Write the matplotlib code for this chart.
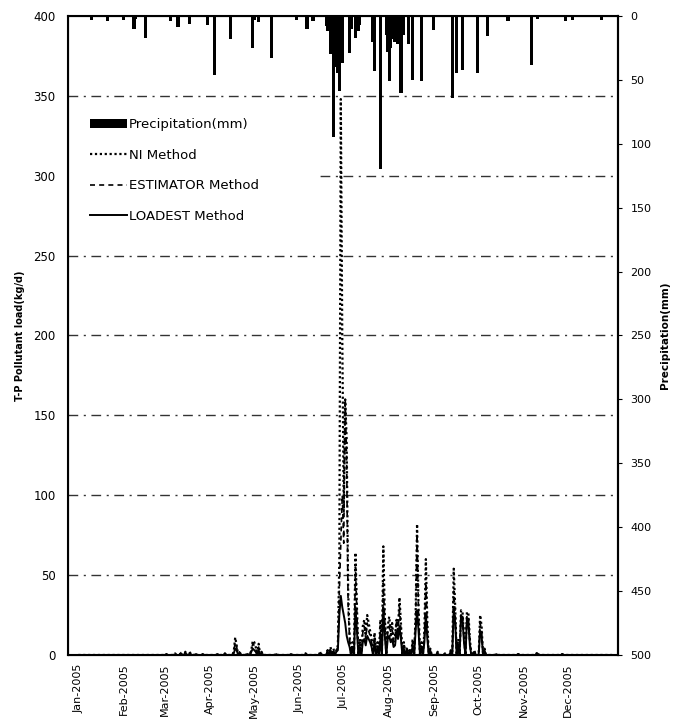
import numpy as np
import pandas as pd
import matplotlib
matplotlib.use("Agg")
import matplotlib.pyplot as plt
from matplotlib.patches import Rectangle

# ---------------- data (day index: 0 = 1 Jan 2005) ----------------
precip_days = [9, 20, 31, 38, 39, 46, 63, 68, 76, 88, 93, 104, 119, 120, 123, 132,
               149, 156, 160, 169, 170, 172, 173, 174, 175, 176, 177, 178, 179, 180,
               185, 186, 189, 190, 191, 192, 201, 202, 206, 210, 211, 212, 213, 215,
               216, 218, 220, 222, 225, 228, 234, 242, 255, 258, 262, 272, 279, 293,
               309, 313, 332, 337, 357]
precip_mm = [3, 4, 3, 10, 2, 17, 4, 9, 6, 7, 46, 18, 25, 3, 5, 33,
             3, 10, 4, 8, 12, 30, 20, 95, 40, 25, 45, 59, 30, 37,
             29, 10, 17, 8, 12, 7, 20, 43, 120, 15, 28, 51, 25, 18,
             20, 22, 60, 15, 22, 50, 51, 11, 64, 45, 42, 45, 16, 4,
             38, 2, 4, 3, 3]

load_days = [60, 66, 70, 73, 76, 80, 85, 95, 100, 106, 107, 108, 110, 115, 118, 119, 120,
             121, 123, 125, 135, 145, 155, 165, 170, 172, 174, 176, 177, 178, 179, 180,
             181, 182, 183, 184, 185, 187, 189, 190, 192, 194, 195, 196, 197, 198, 199,
             200, 202, 204, 206, 208, 209, 211, 212, 213, 214, 215, 216, 217, 218, 219,
             220, 222, 224, 226, 228, 230, 231, 232, 234, 236, 237, 238, 240, 245, 250,
             254, 256, 257, 259, 261, 262, 263, 265, 266, 267, 270, 274, 275, 277, 285,
             300, 313, 330]
ni_load = [0.5, 1, 1.5, 2, 2, 1, 0.5, 0.5, 1, 2, 11, 6, 2, 1, 3, 9, 8,
           5, 7, 2, 1, 0.5, 1, 2, 3, 5, 4, 3, 6, 60, 348, 200,
           90, 160, 135, 40, 12, 8, 64, 30, 10, 18, 22, 12, 25, 20, 15,
           10, 14, 8, 22, 68, 25, 18, 24, 15, 20, 10, 12, 22, 16, 36,
           20, 8, 5, 3, 10, 25, 82, 30, 8, 15, 60, 20, 4, 2, 1,
           3, 54, 30, 10, 28, 27, 12, 27, 26, 10, 3, 25, 18, 4, 0.5,
           0.5, 2, 0.5]
est_load = [0.5, 1, 1.5, 1.5, 1.5, 1, 0.5, 0.5, 1, 2, 8, 5, 2, 1, 3, 7, 6,
            4, 5, 2, 1, 0.5, 1, 2, 3, 4, 3, 3, 5, 40, 70, 100,
            70, 160, 120, 30, 10, 6, 55, 25, 8, 14, 18, 10, 20, 15, 12,
            8, 12, 6, 18, 45, 20, 14, 18, 12, 16, 8, 10, 22, 14, 30,
            15, 6, 4, 3, 8, 20, 75, 25, 6, 12, 45, 15, 3, 2, 1,
            3, 40, 25, 8, 26, 25, 10, 25, 24, 8, 3, 20, 15, 3, 0.5,
            0.5, 1.5, 0.5]
loadest_load = [0.5, 0.5, 1, 1, 1, 0.5, 0.5, 0.5, 0.5, 1, 4, 3, 1, 0.5, 2, 4, 3,
                2, 3, 1, 0.5, 0.5, 0.5, 1, 2, 3, 2, 2, 3, 25, 37, 30,
                25, 20, 12, 8, 5, 4, 30, 15, 5, 8, 10, 6, 12, 10, 8,
                5, 8, 4, 10, 30, 12, 10, 12, 8, 10, 5, 6, 15, 10, 18,
                10, 4, 3, 2, 6, 15, 28, 15, 4, 8, 26, 10, 2, 1, 0.5,
                2, 29, 20, 6, 25, 22, 8, 22, 20, 6, 2, 15, 12, 2, 0.5,
                0.5, 1, 0.5]

month_labels = ["Jan-2005", "Feb-2005", "Mar-2005", "Apr-2005", "May-2005", "Jun-2005",
                "Jul-2005", "Aug-2005", "Sep-2005", "Oct-2005", "Nov-2005", "Dec-2005"]

# ---------------- build series ----------------
dates = pd.date_range("2005-01-01", "2005-12-31", freq="D")
def daily(days, vals):
    s = np.zeros(len(dates))
    s[np.array(days)] = vals
    return s

ni = daily(load_days, ni_load)
est = daily(load_days, est_load)
ldst = daily(load_days, loadest_load)
prc_dates = dates[np.array(precip_days)]

plt.rcParams['font.family'] = ['DejaVu Sans']
fig = plt.figure(figsize=(6.78, 7.2), dpi=100)
ax = fig.add_axes([0.1003, 0.0903, 0.8112, 0.8875])

ax.plot(dates, ni, linestyle=(0, (1, 1.2)), color="black", lw=1.6, label="NI Method", zorder=3)
ax.plot(dates, est, linestyle=(0, (3, 2.5)), color="black", lw=1.2, label="ESTIMATOR Method", zorder=3)
ax.plot(dates, ldst, linestyle="-", color="black", lw=1.4, label="LOADEST Method", zorder=4)

ax.set_ylim(0, 400)
ax.set_yticks(range(0, 401, 50))
xmin = pd.Timestamp("2004-12-25")
xmax = pd.Timestamp("2006-01-04")
ax.set_xlim(xmin, xmax)
ticks = pd.date_range("2005-01-01", "2005-12-01", freq="MS")
ax.set_xticks(ticks)
ax.set_xticklabels(month_labels, rotation=90, fontsize=8)
ax.tick_params(axis="x", length=0, pad=6)
ax.tick_params(axis="y", length=0, labelsize=8.5, pad=9)
for v in range(50, 351, 50):
    ax.axhline(v, color="#333333", lw=1.0, linestyle=(0, (7, 4, 1.5, 4)), zorder=1)
# white legend background that hides the gridlines behind the legend
ax.add_patch(Rectangle((0.0, 0.657), 0.458, 0.204, transform=ax.transAxes,
                       facecolor="white", edgecolor="none", zorder=1.5))
ax.set_ylabel("T-P Pollutant load(kg/d)", fontsize=7, fontweight="bold", labelpad=6)
for sp in ax.spines.values():
    sp.set_linewidth(1.5)

ax2 = ax.twinx()
bars = ax2.bar(prc_dates, precip_mm, width=2.2, color="black", label="Precipitation(mm)", zorder=2)
ax2.set_ylim(500, 0)
ax2.set_yticks(range(0, 501, 50))
ax2.tick_params(axis="y", length=3, labelsize=8, pad=6)
ax2.set_ylabel("Precipitation(mm)", fontsize=7.5, fontweight="bold", labelpad=6)
ax2.spines["right"].set_linewidth(1.5)
ax2.set_xlim(xmin, xmax)

handles = [bars] + ax.get_lines()[:3]
labels = ["Precipitation(mm)", "NI Method", "ESTIMATOR Method", "LOADEST Method"]
leg = ax2.legend(handles, labels, loc="upper left", bbox_to_anchor=(0.03, 0.848),
                 frameon=False, fontsize=9.5, handlelength=2.8, handletextpad=0.15,
                 labelspacing=1.32, borderaxespad=0)

fig.savefig("out.png", dpi=100)
